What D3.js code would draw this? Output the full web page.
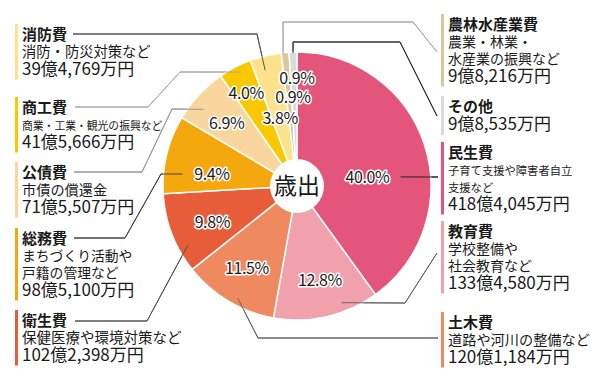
<!DOCTYPE html>
<html>
<head>
<meta charset="utf-8">
<script src="https://cdn.jsdelivr.net/npm/d3@7"></script>
<style>
  body { margin: 0; background: #fff; }
  text { font-family: "Noto Sans CJK JP", "Noto Sans", sans-serif; fill: #1a1a1a; }
</style>
</head>
<body>
<svg width="598" height="387"></svg>
<script>
// data, clockwise from 12 o'clock
var names = ["民生費", "教育費", "土木費", "衛生費", "総務費", "公債費", "商工費", "消防費", "農林水産業費", "その他"];
var notes = [
  ["子育て支援や障害者自立", "支援など"],
  ["学校整備や", "社会教育など"],
  ["道路や河川の整備など"],
  ["保健医療や環境対策など"],
  ["まちづくり活動や", "戸籍の管理など"],
  ["市債の償還金"],
  ["商業・工業・観光の振興など"],
  ["消防・防災対策など"],
  ["農業・林業・", "水産業の振興など"],
  []
];
// 億円
var values = [418.4045, 133.4580, 120.1184, 102.2398, 98.5100, 71.5507, 41.5666, 39.4769, 9.8216, 9.8535];
// percentages as printed
var shares = [40.0, 12.8, 11.5, 9.8, 9.4, 6.9, 4.0, 3.8, 0.9, 0.9];
var colors = ["#e4557b", "#f0a1ab", "#ef895f", "#e85d39", "#f4a80e", "#f9d69e", "#f8c900", "#fde28b", "#d7c99d", "#dcdadd"];

// layout
var cx = 297, cy = 186, radius = 134;
var pctPos = [[82.7, 71], [166.3, 97], [211.4, 96], [247, 92], [278, 86], [311.5, 94], [331.3, 106], [346, 70], [357.4, 89], [0, 108]];
var anchorPos = [[85, 104], [159, 125], [207.8, 127], [241.6, 124], [276, 115], [309.3, 121], [333.8, 127], [344.6, 120], [354, 132], [358.3, 133]];
var elbows = [
  [[438, 177]],
  [[405, 303], [437, 253]],
  [[258, 338], [438, 338]],
  [[147, 321], [75, 321]],
  [[161, 174], [125, 238], [74, 238]],
  [[172, 109], [142, 172], [74, 172]],
  [[180, 72], [148, 107], [75, 107]],
  [[257, 34], [73, 34]],
  [[283, 22], [413, 22], [437, 52]],
  [[293, 42], [400, 42], [437, 116]]
];
var lineColors = ["#222", "#666", "#666", "#555", "#444", "#999", "#aaa", "#555", "#aaa", "#333"];
var blocks = [["R", 158], ["R", 237], ["R", 328], ["L", 326], ["L", 244], ["L", 178], ["L", 113], ["L", 40], ["R", 30], ["R", 112]];
var noteSize = [11.3, 14, 14.2, 14.5, 13.8, 14.2, 10.8, 14.3, 14, 14];

var svg = d3.select("svg");
var fmtPct = d3.format(".1f");

function amountText(v) {
  var oku = Math.floor(v);
  var man = Math.round((v - oku) * 10000);
  return oku + "億" + d3.format(",")(man) + "万円";
}

function polar(p) {
  var a = p[0] * Math.PI / 180;
  return [cx + p[1] * Math.sin(a), cy - p[1] * Math.cos(a)];
}

var pie = d3.pie().sort(null).value(function(d) { return d; });
var arcs = pie(values);
var arc = d3.arc().innerRadius(0).outerRadius(radius);
var line = d3.line();

function drawLeaders() {
  svg.append("g").selectAll("path")
    .data(arcs)
    .enter().append("path")
    .attr("fill", "none")
    .attr("stroke", function(d, i) { return lineColors[i]; })
    .attr("stroke-width", 1)
    .attr("d", function(d, i) { return line([polar(anchorPos[i])].concat(elbows[i])); });
}

drawLeaders();

var g = svg.append("g").attr("transform", "translate(" + cx + "," + cy + ")");

g.selectAll("path.slice")
  .data(arcs)
  .enter().append("path")
  .attr("class", "slice")
  .attr("d", arc)
  .attr("fill", function(d, i) { return colors[i]; })
  .attr("stroke", "#fff")
  .attr("stroke-width", 1.5);

// the part of each leader that sits on its slice
drawLeaders();

g.append("circle").attr("r", 27).attr("fill", "#fff");
g.append("text")
  .attr("text-anchor", "middle")
  .attr("dy", "0.36em")
  .attr("font-size", 23)
  .text("歳出");

// percentages with white halo
svg.append("g").selectAll("text")
  .data(arcs)
  .enter().append("text")
  .attr("x", function(d, i) { return polar(pctPos[i])[0]; })
  .attr("y", function(d, i) { return polar(pctPos[i])[1]; })
  .attr("dy", "0.36em")
  .attr("text-anchor", "middle")
  .attr("font-size", 16)
  .attr("letter-spacing", -0.4)
  .attr("stroke", "#fff")
  .attr("stroke-width", 3)
  .attr("stroke-linejoin", "round")
  .attr("paint-order", "stroke")
  .text(function(d, i) { return fmtPct(shares[i]) + "%"; });

// label blocks: one text each, lines as tspans
blocks.forEach(function(b, i) {
  var x = b[0] == "L" ? 22 : 448;
  var y = b[1];
  var ys = [];
  var cur = y + 16.5;
  notes[i].forEach(function() { ys.push(cur); cur += 17; });
  var amtY = notes[i].length ? cur + 1 : y + 18;

  svg.append("rect")
    .attr("x", x - 7).attr("y", y - 16)
    .attr("width", 3).attr("height", amtY + 5 - (y - 16))
    .attr("fill", colors[i]);

  var t = svg.append("text");
  t.append("tspan")
    .attr("x", x).attr("y", y)
    .attr("font-size", 15)
    .attr("font-weight", "bold")
    .text(names[i]);

  notes[i].forEach(function(s, j) {
    t.append("tspan")
      .attr("x", x).attr("y", ys[j])
      .attr("font-size", noteSize[i])
      .text(s);
  });

  t.append("tspan")
    .attr("x", x).attr("y", amtY)
    .attr("font-size", 17)
    .text(amountText(values[i]));
});
</script>
</body>
</html>
